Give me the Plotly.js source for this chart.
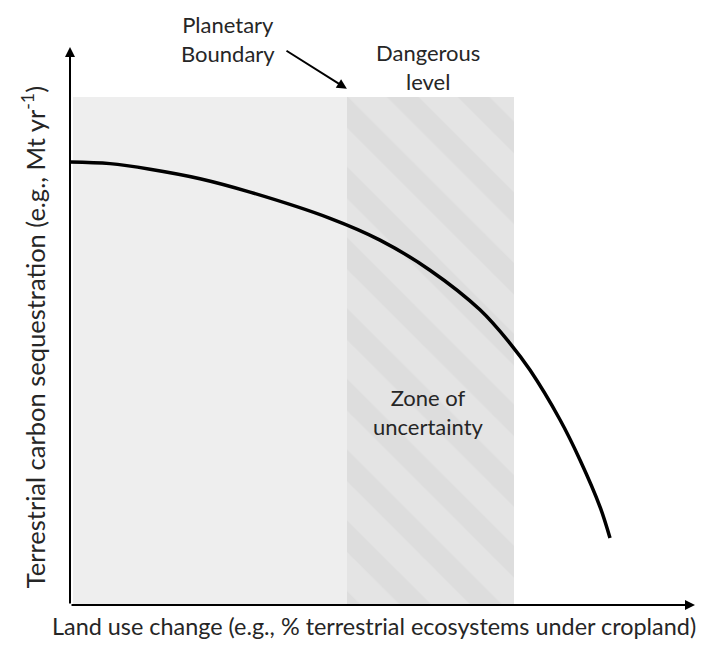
<!DOCTYPE html>
<html>
<head>
<meta charset="utf-8">
<script src="https://cdn.plot.ly/plotly-3.0.1.min.js"></script>
<style>html,body{margin:0;padding:0;background:#fff;}#chart{width:701px;height:653px;}</style>
</head>
<body>
<div id="chart"></div>
<script>
// Schematic curve (x: land use change, y: carbon sequestration), axes 0–100
const curveX = [0, 6.4, 12.8, 20.8, 28.8, 41.6, 49.6, 57.6, 65.6, 70.4, 73.6, 78.4, 81.6, 84.8, 86.4];
const curveY = [79.4, 79.1, 78.1, 76.4, 74.0, 69.3, 65.4, 60.0, 52.9, 46.9, 42.1, 33.2, 26.0, 17.6, 12.0];

// Zones: [start, end] along x, and their common top
const safeZone = [0.5, 44.3];
const uncertaintyZone = [44.3, 71.0];
const zoneTop = 91.0;

const zoneLabels = ["Planetary<br>Boundary", "Dangerous<br>level", "Zone of<br>uncertainty"];
const xTitle = "Land use change (e.g., % terrestrial ecosystems under cropland)";
const yTitle = "Terrestrial carbon sequestration (e.g., Mt yr<sup>-1</sup>)";

const FONT = "Lato, 'Open Sans', sans-serif";
const TXT = "#262626";
const FS = 22;

const traces = [
  {
    type: "bar",
    x: [(safeZone[0] + safeZone[1]) / 2],
    y: [zoneTop],
    width: [safeZone[1] - safeZone[0]],
    base: 0,
    marker: {color: "#eeeeee", line: {width: 0}},
    hoverinfo: "skip"
  },
  {
    type: "bar",
    x: [(uncertaintyZone[0] + uncertaintyZone[1]) / 2],
    y: [zoneTop],
    width: [uncertaintyZone[1] - uncertaintyZone[0]],
    base: 0,
    marker: {
      color: "#e4e4e4",
      line: {width: 0},
      pattern: {shape: "\\", fillmode: "overlay", fgcolor: "#d6d6d6", size: 50, solidity: 0.45}
    },
    hoverinfo: "skip"
  },
  {
    type: "scatter",
    mode: "lines",
    x: curveX,
    y: curveY,
    line: {color: "#000000", width: 3.5, shape: "spline", smoothing: 1.0},
    hoverinfo: "skip"
  }
];

const layout = {
  width: 701,
  height: 653,
  margin: {l: 70, r: 6, t: 47, b: 48},
  paper_bgcolor: "#ffffff",
  plot_bgcolor: "#ffffff",
  showlegend: false,
  barmode: "overlay",
  bargap: 0,
  font: {family: FONT, size: FS, color: TXT},
  xaxis: {
    range: [0, 100],
    showgrid: false, zeroline: false, showticklabels: false, ticks: "",
    showline: false,
    title: {text: ""},
    automargin: false,
    fixedrange: true
  },
  yaxis: {
    range: [0, 100],
    showgrid: false, zeroline: false, showticklabels: false, ticks: "",
    showline: false,
    title: {text: ""},
    automargin: false,
    fixedrange: true
  },
  annotations: [
    // axes with arrowheads
    {x: 0, y: 100, ax: 0, ay: 0, xref: "x", yref: "y", axref: "x", ayref: "y",
     text: "", showarrow: true, arrowhead: 2, arrowsize: 1, arrowwidth: 2, arrowcolor: "#000"},
    {x: 100, y: 0, ax: 0, ay: 0, xref: "x", yref: "y", axref: "x", ayref: "y",
     text: "", showarrow: true, arrowhead: 2, arrowsize: 1, arrowwidth: 2, arrowcolor: "#000"},
    // axis titles
    {x: 0.4864, y: -0.0376, xref: "paper", yref: "paper", xanchor: "center", yanchor: "middle",
     text: xTitle, showarrow: false, font: {family: FONT, size: 23.4, color: TXT}},
    {x: -0.0592, y: 0.480, xref: "paper", yref: "paper", xanchor: "center", yanchor: "middle",
     textangle: -90, text: yTitle, showarrow: false, font: {family: FONT, size: 25.5, color: TXT}},
    // Planetary boundary arrow
    {x: uncertaintyZone[0], y: 92.5, ax: 34.4, ay: 99.5, xref: "x", yref: "y", axref: "x", ayref: "y",
     text: "", showarrow: true, arrowhead: 2, arrowsize: 1, arrowwidth: 2, arrowcolor: "#000"},
    {x: 0.2528, y: 1.0152, xref: "paper", yref: "paper", xanchor: "center", yanchor: "middle",
     text: zoneLabels[0], showarrow: false, font: {family: FONT, size: FS, color: TXT}, align: "center"},
    {x: 0.5728, y: 0.965, xref: "paper", yref: "paper", xanchor: "center", yanchor: "middle",
     text: zoneLabels[1], showarrow: false, font: {family: FONT, size: FS, color: TXT}, align: "center"},
    {x: 57.4, y: 34.6, xref: "x", yref: "y", xanchor: "center", yanchor: "middle",
     text: zoneLabels[2], showarrow: false, font: {family: FONT, size: FS, color: TXT}, align: "center"}
  ]
};

Plotly.newPlot("chart", traces, layout, {staticPlot: true, displayModeBar: false});
</script>
</body>
</html>
